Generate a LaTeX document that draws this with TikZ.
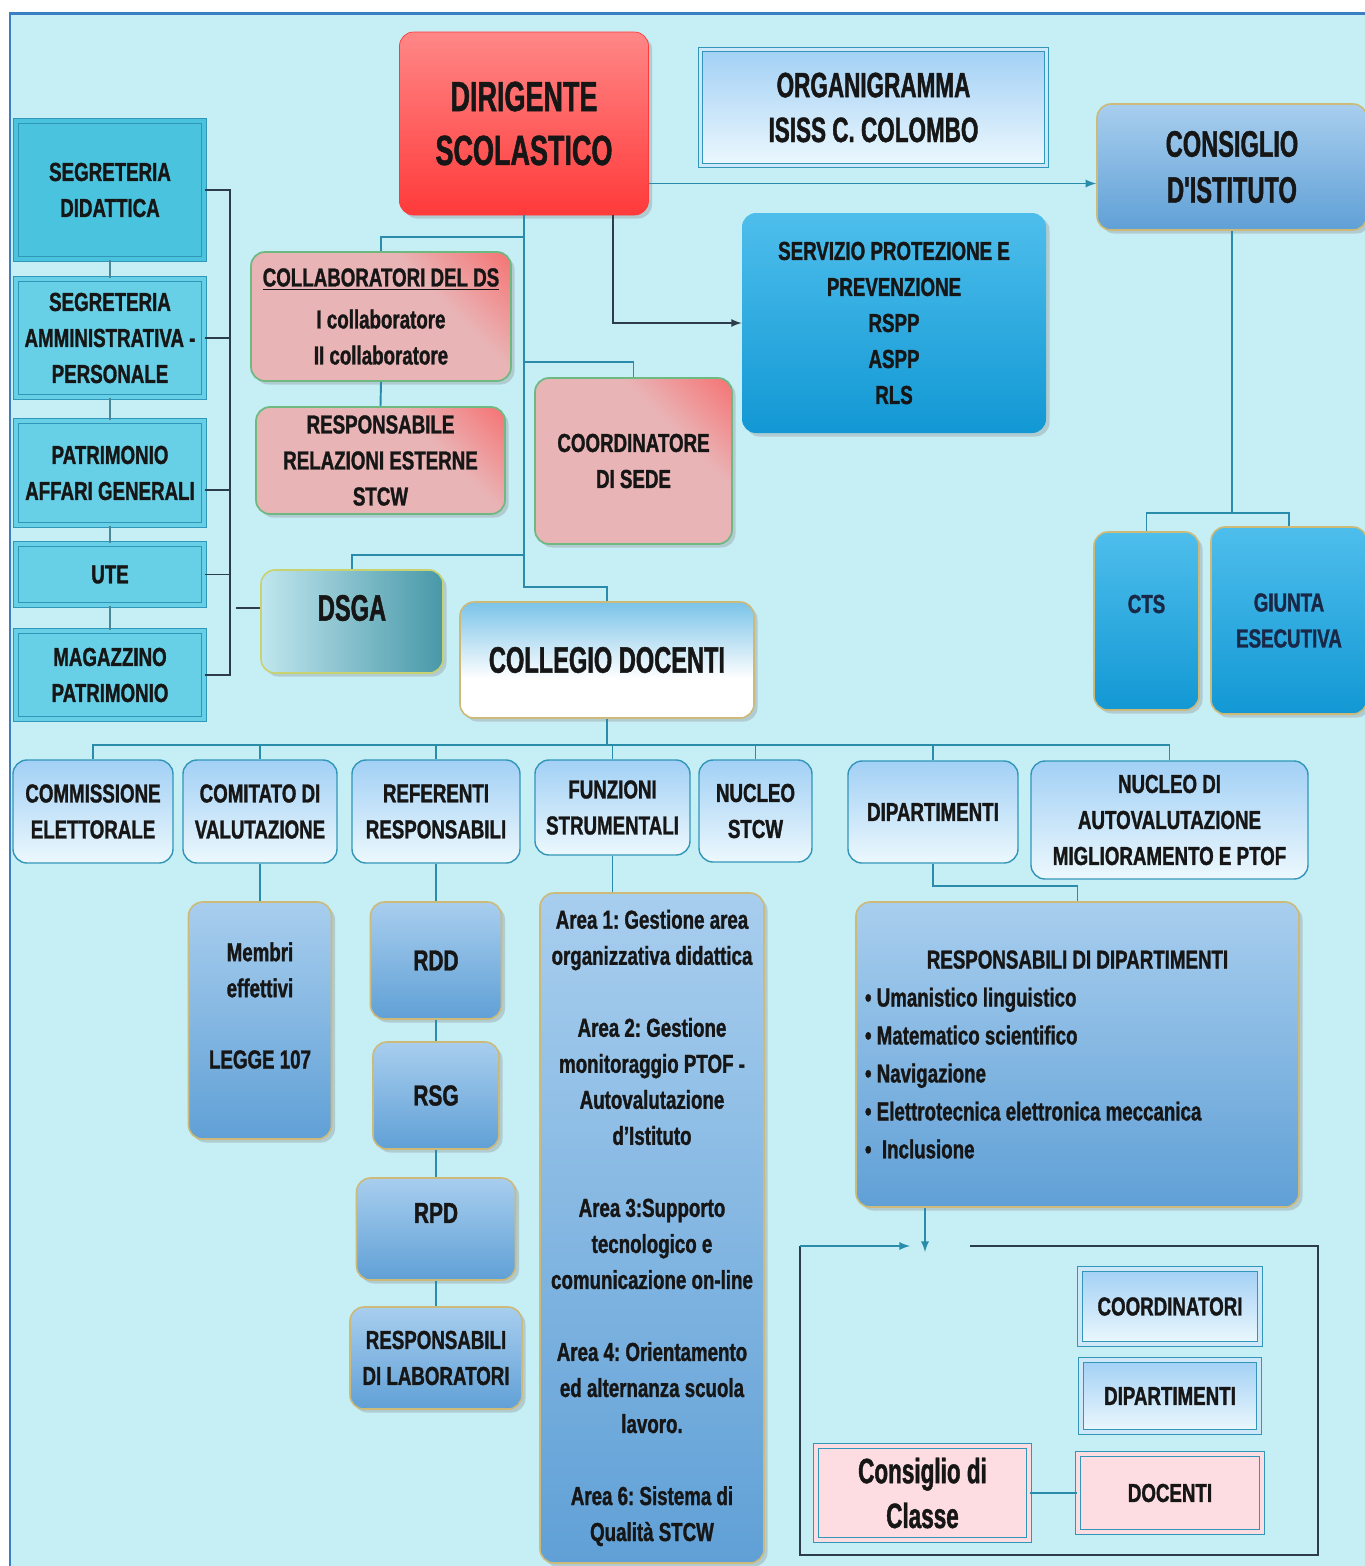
\documentclass[tikz,border=0pt]{standalone}
\usepackage{fontspec}
\setmainfont{Liberation Sans}[FakeStretch=0.72, BoldFeatures={FakeBold=1.2}]
\newfontfamily\stretta{Liberation Sans}[FakeStretch=0.64, BoldFeatures={FakeBold=1.2}]
\usetikzlibrary{shadows}
\frenchspacing

\definecolor{sfondo}{RGB}{198,238,245}
\definecolor{cornice}{RGB}{58,126,196}
\definecolor{lineaC}{RGB}{40,140,170}
\definecolor{scuroC}{RGB}{45,60,75}
\definecolor{nero}{RGB}{22,22,22}
\definecolor{navy}{RGB}{25,40,70}
\definecolor{rossoA}{RGB}{255,135,135}
\definecolor{rossoB}{RGB}{255,58,58}
\definecolor{rosa}{RGB}{233,180,182}
\definecolor{rosaR}{RGB}{255,70,70}
\definecolor{verdeB}{RGB}{110,185,130}
\definecolor{cianoS}{RGB}{74,196,222}
\definecolor{cianoC}{RGB}{104,208,230}
\definecolor{bordociano}{RGB}{50,150,185}
\definecolor{azzA}{RGB}{168,206,238}
\definecolor{azzB}{RGB}{96,160,214}
\definecolor{chiaroA}{RGB}{162,208,245}
\definecolor{chiaroB}{RGB}{236,248,253}
\definecolor{celA}{RGB}{78,190,236}
\definecolor{celB}{RGB}{18,152,212}
\definecolor{bluC}{RGB}{22,150,215}
\definecolor{dsgaA}{RGB}{192,230,238}
\definecolor{dsgaB}{RGB}{72,152,168}
\definecolor{oro}{RGB}{205,185,120}
\definecolor{giallo}{RGB}{200,210,110}
\definecolor{rosino}{RGB}{253,221,225}

\newcommand{\fbase}{\fontsize{14.8}{20.5}\selectfont\bfseries}
\newcommand{\fmedio}{\fontsize{16.5}{20.5}\selectfont\bfseries}
\newcommand{\ftitolo}{\stretta\fontsize{20}{25.5}\selectfont\bfseries}
\newcommand{\fgrande}{\stretta\fontsize{21}{26.2}\selectfont\bfseries}
\newcommand{\fenorme}{\stretta\fontsize{24}{30.7}\selectfont\bfseries}

\pgfdeclarehorizontalshading{rosarosso}{100bp}{color(0bp)=(rosa); color(64bp)=(rosa); color(100bp)=(rosaR)}
\pgfdeclareverticalshading{collegio}{100bp}{color(0bp)=(white); color(42bp)=(white); color(100bp)=(bluC)}

\begin{document}
\begin{tikzpicture}[x=0.02cm, y=-0.02cm]
\tikzset{testo/.style={font=\fbase, text=nero, align=center, inner sep=1pt},
  dim/.style 2 args={minimum width=#1*0.02cm, minimum height=#2*0.02cm},
  ombra/.style={drop shadow={opacity=0.3, shadow xshift=2pt, shadow yshift=-2pt}},
  rossa/.style={testo, rounded corners=8pt, top color=rossoA, bottom color=rossoB, draw=rossoB, ombra},
  rosastile/.style={testo, rounded corners=8pt, shading=rosarosso, shading angle=45, draw=verdeB, line width=1pt, ombra},
  ciano/.style={testo, fill=cianoC, draw=bordociano, line width=0.6pt, double=cianoC, double distance=2.2pt},
  doppia/.style={testo, top color=chiaroA, bottom color=chiaroB, draw=bordociano, line width=0.6pt, double=chiaroB!60!chiaroA, double distance=2.2pt},
  rosinostile/.style={testo, fill=rosino, draw=bordociano, line width=0.6pt, double=rosino, double distance=2.2pt},
  chiara/.style={testo, rounded corners=8pt, top color=chiaroA, bottom color=chiaroB, draw=bordociano, line width=0.8pt},
  blu/.style={testo, rounded corners=8pt, top color=azzA, bottom color=azzB, draw=oro, line width=0.9pt, ombra},
  celeste/.style={testo, rounded corners=8pt, top color=celA, bottom color=celB, ombra},
  collegiostile/.style={testo, rounded corners=8pt, shading=collegio, draw=oro, line width=0.9pt, ombra},
  dsgastile/.style={testo, rounded corners=8pt, left color=dsgaA, right color=dsgaB, draw=giallo, line width=0.9pt, ombra},
  linea/.style={draw=lineaC, line width=1.1pt},
  scura/.style={draw=scuroC, line width=1pt},
  freccia/.style={linea, >=latex, ->}}

\useasboundingbox (0,0) rectangle (1365,1566);
\fill[sfondo] (10,13) rectangle (1365,1566);
\draw[cornice, line width=0.06cm] (10,1566) -- (10,13) -- (1365,13);

\node[rossa, font=\fenorme, dim={249}{183}] (ds) at (524,123.5) {DIRIGENTE\\SCOLASTICO};
\node[doppia, font=\ftitolo, dim={346}{116}] (org) at (873.5,107.5) {ORGANIGRAMMA\\ISISS C. COLOMBO};
\node[blu, font=\fgrande, dim={270}{126}] (ci) at (1232,167) {CONSIGLIO\\D'ISTITUTO};

\node[ciano, fill=cianoS, double=cianoS, dim={188}{138}] (sd) at (110,190) {SEGRETERIA\\DIDATTICA};
\node[ciano, dim={188}{118}] (sa) at (110,338) {SEGRETERIA\\AMMINISTRATIVA -\\PERSONALE};
\node[ciano, dim={188}{104}] (pa) at (110,473) {PATRIMONIO\\AFFARI GENERALI};
\node[ciano, dim={188}{61}] (ute) at (110,574.5) {UTE};
\node[ciano, dim={188}{88}] (mg) at (110,675) {MAGAZZINO\\PATRIMONIO};

\node[rosastile, dim={260}{129}] (col) at (381,316.5) {\underline{COLLABORATORI DEL DS}\\[3.4pt]I collaboratore\\II collaboratore};
\node[rosastile, dim={249}{107}] (rre) at (380.5,460.5) {RESPONSABILE\\RELAZIONI ESTERNE\\STCW};
\node[rosastile, dim={197}{166}] (cs) at (633.5,461) {COORDINATORE\\DI SEDE};
\node[celeste, dim={304}{220}] (spp) at (894,323) {SERVIZIO PROTEZIONE E\\PREVENZIONE\\RSPP\\ASPP\\RLS};
\node[dsgastile, dim={182}{103}, label={[testo, font=\fgrande, yshift=13.5*0.02cm]center:DSGA}] (dsga) at (352,621.5) {};
\node[collegiostile, font=\fgrande, dim={294}{116}] (cd) at (607,660) {COLLEGIO DOCENTI};
\node[celeste, draw=oro, line width=0.9pt, dim={105}{178}, label={[testo, text=navy, yshift=17*0.02cm]center:CTS}] (cts) at (1146.5,621) {};
\node[celeste, draw=oro, line width=0.9pt, text=navy, dim={156}{187}] (ge) at (1289,620.5) {GIUNTA\\ESECUTIVA};

\node[chiara, dim={160}{103}] (ce) at (93,811.5) {COMMISSIONE\\ELETTORALE};
\node[chiara, dim={154}{103}] (cv) at (260,811.5) {COMITATO DI\\VALUTAZIONE};
\node[chiara, dim={168}{103}] (rr) at (436,811.5) {REFERENTI\\RESPONSABILI};
\node[chiara, dim={155}{95}] (fs) at (612.5,807.5) {FUNZIONI\\STRUMENTALI};
\node[chiara, dim={113}{102}] (ns) at (755.5,811) {NUCLEO\\STCW};
\node[chiara, dim={170}{102}] (dip) at (933,812) {DIPARTIMENTI};
\node[chiara, dim={277}{118}] (nav) at (1169.5,820) {NUCLEO DI\\AUTOVALUTAZIONE\\MIGLIORAMENTO E PTOF};

\node[blu, dim={143}{237}, label={[testo, yshift=15*0.02cm]center:Membri\\effettivi\\[20pt]LEGGE 107}] (mem) at (260,1020.5) {};
\node[blu, font=\fmedio, dim={131}{117}] (rdd) at (436,960.5) {RDD};
\node[blu, font=\fmedio, dim={126}{107}] (rsg) at (436,1095.5) {RSG};
\node[blu, dim={159}{102}, label={[testo, font=\fmedio, yshift=16*0.02cm]center:RPD}] (rpd) at (436,1229) {};
\node[blu, dim={172}{102}] (lab) at (436,1358) {RESPONSABILI\\DI LABORATORI};
\node[blu, dim={224}{670}] (area) at (652,1228) {Area 1: Gestione area\\organizzativa didattica\\[20.5pt]Area 2: Gestione\\monitoraggio PTOF -\\Autovalutazione\\d'Istituto\\[20.5pt]Area 3:Supporto\\tecnologico e\\comunicazione on-line\\[20.5pt]Area 4: Orientamento\\ed alternanza scuola\\lavoro.\\[20.5pt]Area 6: Sistema di\\Qualità STCW};
\node[blu, dim={443}{305}, font=\fontsize{14.8}{21.6}\selectfont\bfseries, text width=425*0.02cm, align=flush left] (rd) at (1077.5,1054.5) {\makebox[\hsize]{RESPONSABILI DI DIPARTIMENTI}\\\textbullet\ Umanistico linguistico\\\textbullet\ Matematico scientifico\\\textbullet\ Navigazione\\\textbullet\ Elettrotecnica elettronica meccanica\\\textbullet\ \ Inclusione};

\node[doppia, dim={180}{75}] (coo) at (1170,1306.5) {COORDINATORI};
\node[doppia, dim={178}{72}] (dp2) at (1170,1396) {DIPARTIMENTI};
\node[rosinostile, font=\ftitolo, dim={213}{94}] (ccl) at (922.5,1493) {Consiglio di\\Classe};
\node[rosinostile, dim={184}{78}] (doc) at (1170,1493) {DOCENTI};

\draw[linea] (ds.south) -- ++(0,22) -| (col.north);
\draw[linea] (ds.south) -- ++(0,147) -| (cs.north);
\draw[linea] (ds.south) -- ++(0,340) -| (dsga.north);
\draw[linea] (ds.south) -- ++(0,372) -| (cd.north);
\draw[linea] (col.south) -- (rre.north);
\draw[freccia] (ds.east) ++(0,60) -- (ci.west |- 0,183.5);
\draw[freccia, scura] (ds.south -| 613,0) |- (spp.west);

\coordinate (bs) at (230,190);
\draw[scura] (sd.east) -- (sd.east -| bs) -- (mg.east -| bs) -- (mg.east);
\draw[scura] (sa.east) -- (sa.east -| bs);
\draw[scura] (pa.east) ++(0,17) -- (bs |- 0,490);
\draw[scura] (ute.east) -- (ute.east -| bs);
\foreach \a/\b in {sd/sa, sa/pa, pa/ute, ute/mg}
  \draw[linea, line width=0.8pt, lineaC!60!gray] (\a.south) -- (\b.north);
\coordinate (td) at (236,608);
\draw[scura] (td) -- (dsga.west |- td);

\coordinate (bus) at (0,745);
\draw[linea] (cd.south) -- (cd.south |- bus);
\draw[linea] (ce.north) -- (ce.north |- bus) -- (nav.north |- bus) -- (nav.north);
\foreach \n in {cv,rr,fs,ns,dip}
  \draw[linea] (\n.north) -- (\n.north |- bus);
\draw[linea] (cv.south) -- (mem.north);
\draw[linea] (rr.south) -- (rdd.north);
\draw[linea] (rdd.south) -- (rsg.north);
\draw[linea] (rsg.south) -- (rpd.north);
\draw[linea] (rpd.south) -- (lab.north);
\draw[linea] (fs.south) -- (fs.south |- area.north);
\draw[linea] (dip.south) -- ++(0,22) -| (rd.north);
\draw[linea] (ci.south) -- ++(0,282) coordinate (cg);
\draw[linea] (cts.north) |- (cg) -| (ge.north);

\coordinate (fv) at (925,1252);
\coordinate (fo) at (910,1246);
\draw[freccia] (rd.south -| fv) -- (fv);
\draw[scura] (970,1246) -- (1318,1246) -- (1318,1555) -- (800,1555) -- (800,1246);
\draw[freccia] (800,1246) -- (fo);
\draw[linea] (ccl.east) -- (doc.west);
\end{tikzpicture}
\end{document}
